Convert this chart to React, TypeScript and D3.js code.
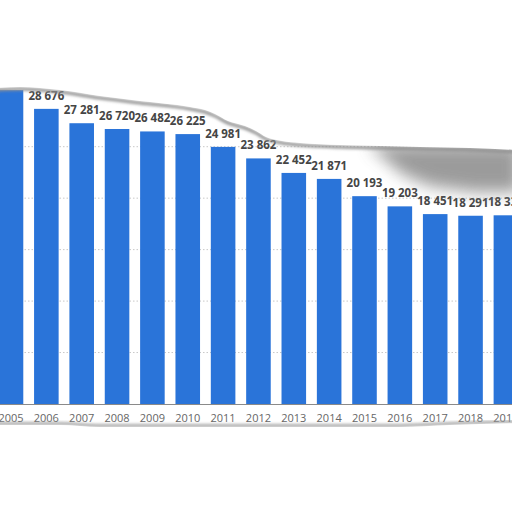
import * as d3 from "d3"

const years = ["2005", "2006", "2007", "2008", "2009", "2010", "2011", "2012", "2013", "2014", "2015", "2016", "2017", "2018", "2019"]
const values = [30500, 28676, 27281, 26720, 26482, 26225, 24981, 23862, 22452, 21871, 20193, 19203, 18451, 18291, 18335]
const gridTicks = [5000, 10000, 15000, 20000, 25000]

// torn paper edges (decoration only)
const topEdge: [number, number][] = [
  [-5, 88], [20, 87], [60, 90], [100, 96], [140, 101], [190, 107], [205, 110], [215, 114],
  [228, 121], [245, 126], [256, 131], [266, 137], [282, 141], [300, 143], [340, 145],
  [380, 146], [420, 147], [470, 148], [517, 150],
]
const bottomEdge: [number, number][] = [
  [-5, 425], [60, 425], [100, 427], [200, 427], [300, 427], [400, 427], [450, 425], [517, 423],
]

const W = 512
const H = 512
const fmt = d3.formatLocale({ thousands: " ", grouping: [3], decimal: ",", currency: ["", ""] }).format(",d")

export default function App() {
  const step = 35.35
  const c0 = 11
  const x = d3
    .scaleBand()
    .domain(years)
    .range([c0 - step / 2, c0 - step / 2 + years.length * step])
    .paddingInner(0.305)
    .paddingOuter(0.1525)

  const y = d3.scaleLinear().domain([0, 35000]).range([404, 404 - 7 * 51.46])

  const edgeLine = d3.line().curve(d3.curveMonotoneX)
  const topPath = edgeLine(topEdge) + ` L517,-5 L-5,-5 Z`
  const bottomPath = edgeLine(bottomEdge) + ` L517,517 L-5,517 Z`

  return (
    <div style={{ position: "fixed", left: 0, top: 0, width: W, height: H, background: "#fff" }}>
      <svg width={W} height={H} style={{ display: "block" }}>
        <defs>
          <filter id="blurS" x="-20%" y="-20%" width="140%" height="140%">
            <feGaussianBlur stdDeviation="1.6" />
          </filter>
          <filter id="blurL" x="-50%" y="-50%" width="200%" height="200%">
            <feGaussianBlur stdDeviation="8" />
          </filter>
        </defs>
        <rect width={W} height={H} fill="#fff" />

        <g>
          {gridTicks.map((t) => (
            <line
              key={t}
              x1={0}
              x2={W}
              y1={y(t)}
              y2={y(t)}
              stroke="#c8c8c8"
              strokeWidth={1}
              strokeDasharray="1.5,2"
            />
          ))}
        </g>

        <g>
          {years.map((yr, i) => (
            <rect
              key={yr}
              x={x(yr)}
              y={y(values[i])}
              width={x.bandwidth()}
              height={y(0) - y(values[i])}
              fill="#2a74d9"
            />
          ))}
        </g>

        <line x1={0} x2={W} y1={y(0) + 0.5} y2={y(0) + 0.5} stroke="#8a8a8a" strokeWidth={1} />

        <g fontFamily="'Open Sans', sans-serif" fontSize={11.5} fontWeight={700} fill="#454545" textAnchor="middle">
          {years.map((yr, i) => (
            <text key={yr} x={(x(yr) || 0) + x.bandwidth() / 2} y={y(values[i]) - 9}>
              {fmt(values[i])}
            </text>
          ))}
        </g>

        <g fontFamily="'Open Sans', sans-serif" fontSize={11} fill="#666" textAnchor="middle">
          {years.map((yr) => (
            <text key={yr} x={(x(yr) || 0) + x.bandwidth() / 2} y={422}>
              {yr}
            </text>
          ))}
        </g>

        {/* paper curl shadow on the right */}
        <path
          d="M368,145 L520,145 L520,192 L475,192 L430,186 L402,174 L386,160 Z"
          fill="#8a8a8a"
          opacity={0.85}
          filter="url(#blurL)"
        />
        {/* thin shadows along torn edges */}
        <path d={edgeLine(topEdge) || ""} transform="translate(0,2)" fill="none" stroke="#8f8f8f" strokeWidth={3} filter="url(#blurS)" />
        <path d={edgeLine(bottomEdge) || ""} transform="translate(0,-1.5)" fill="none" stroke="#9a9a9a" strokeWidth={2.5} filter="url(#blurS)" />

        <path d={topPath} fill="#fff" />
        <path d={bottomPath} fill="#fff" />
      </svg>
    </div>
  )
}
